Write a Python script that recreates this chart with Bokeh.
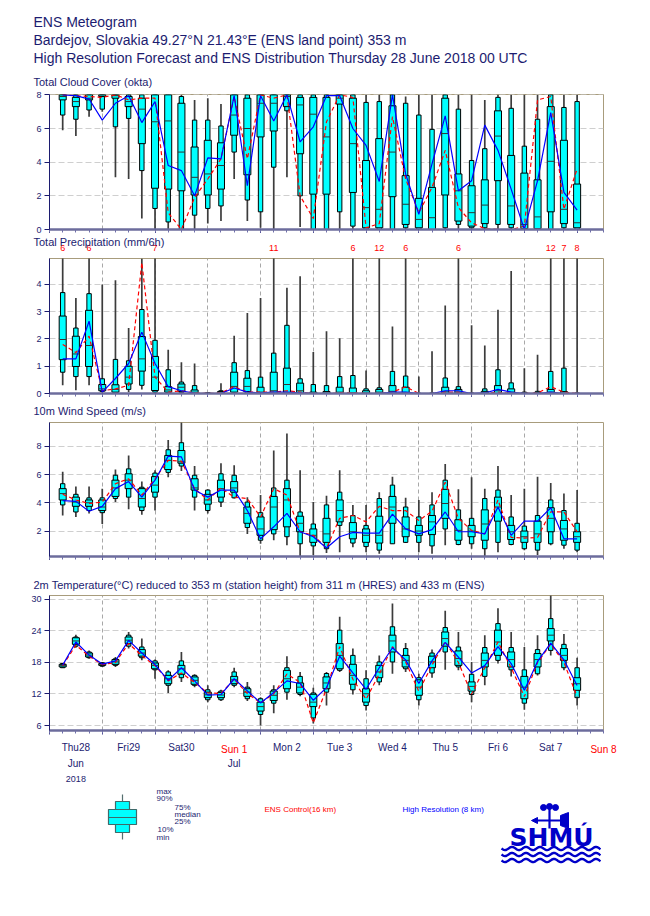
import numpy as np
from bokeh.plotting import figure
from bokeh.models import Range1d, FixedTicker, LinearAxis, Title
from bokeh.layouts import column
from bokeh.embed import file_html
from bokeh.resources import INLINE
from bokeh.core.properties import value

# ---------------- data ----------------
steps = list(range(6, 241, 6))  # forecast hours from Thu 28 June 00 UTC

cloud_min = [5.9,5.55,6.7,7.0,3.1,3.0,0.65,0,0,0, 0,0.35,0.5,3.0,0.5,0.1,0,3.1,0.15,0, 0,0,0,0,0,0,0,0,0,0, 0,0,0,0,0,0,0,0,0,0]
cloud_p10 = [6.8,6.55,7.1,7.15,6.1,6.6,3.5,1.25,0.45,0, 0.85,1.25,1.4,4.6,1.75,1.05,3.7,7.05,2.0,0, 0,1.05,0.2,0,0,0,0.1,0,0,0.1, 0.3,0.1,0.1,0.3,0.1,0,0,0,0.1,0]
cloud_p25 = [7.7,7.3,7.7,7.9,7.8,7.3,5.1,2.45,2.4,2.3, 2.05,2.05,2.4,5.6,3.25,5.5,5.85,7.3,4.5,2.1, 2.1,7.45,2.2,0.1,0.1,1.95,0.3,0.1,0,2.05, 0.5,0.2,0.35,2.9,0.3,0.05,0.05,1.05,0.35,0.1]
cloud_med = [7.9,7.6,7.8,8.0,7.95,7.6,7.15,6.4,6.45,4.6, 3.1,3.3,3.8,6.8,6.0,7.5,7.5,7.9,7.4,6.85, 5.5,7.8,5.1,1.3,1.2,4.6,1.5,0.6,0.7,5.7, 2.3,1.0,1.45,5.55,1.4,0.3,0.75,4.05,1.2,0.4]
cloud_p75 = [8,7.85,8,8,8,7.9,7.8,8,8,7.5, 4.9,5.3,5.15,8,7.8,8,8,8,7.85,7.85, 7.85,8,7.8,4.1,5.4,7.35,3.2,1.85,2.5,7.8, 3.3,2.6,2.95,7.05,4.4,3.35,2.95,7.3,5.3,2.7]
cloud_p90 = [8,8,8,8,8,8,8,8,8,7.9, 6.5,6.5,6.15,8,8,8,8,8,8,8, 8,8,8,7.55,7.6,8,7.5,6.8,5.95,8, 7.15,4.1,4.8,7.85,7.2,4.95,6.55,8,7.25,7.6]
cloud_max = [8,8,8,8,8,8,8,8,8,8, 7.7,7.8,7.45,8,8,8,8,8,8,8, 8,8,8,8,8,8,7.9,8,8,8, 8,8,7.7,8,8,8,8,8,8,8]
cloud_ctrl = [8,7.95,7.9,7.85,8,7.7,7.8,7.8,1.0,0, 1.9,3.0,4.2,7.9,4.2,8,7.8,8,2.0,0.65, 6.4,8,7.85,0.1,0.35,6.7,3.0,1.0,2.5,4.7, 1.3,0.4,0.05,0,0,0.2,7.7,7.9,1.2,3.6]
cloud_hres = [8,7.95,7.75,6.5,7.5,7.95,6.35,7.6,3.8,3.5, 2.0,4.25,4.2,7.95,2.6,7.95,6.45,8,5.2,6.1, 7.95,7.95,6.0,5.0,2.85,8,3.3,0.9,3.9,6.75, 2.3,2.9,6.2,4.7,2.4,0,2.9,6.95,2.2,1.15]

precip_min = [0.3,0.12,0.3,0.03,0,0.05,0.15,0,0,0, 0,0,0,0,0,0,0,0,0,0, 0,0,0,0,0,0,0,0,0,0, 0,0,0,0,0,0,0,0,0,0]
precip_p10 = [0.78,0.62,0.62,0.08,0.02,0.15,0.3,0.05,0.02,0.03, 0,0,0,0.05,0.01,0,0,0,0,0, 0,0,0,0,0,0,0,0,0,0, 0,0,0,0,0,0,0,0,0,0]
precip_p25 = [1.24,0.99,0.99,0.1,0.05,0.35,0.82,0.11,0.05,0.08, 0.01,0,0,0.05,0.07,0,0,0.02,0,0, 0,0,0,0,0,0,0,0,0,0, 0,0,0,0,0,0,0,0,0,0]
precip_med = [1.98,1.45,1.76,0.17,0.15,0.6,1.27,0.6,0.13,0.23, 0.05,0,0.02,0.26,0.26,0.05,0.1,0.33,0.1,0, 0.02,0.05,0.03,0.02,0.05,0.08,0.04,0,0,0.06, 0.05,0,0.02,0.1,0.05,0,0,0.05,0.02,0]
precip_p75 = [2.84,2.1,3.05,0.33,0.32,1.0,2.09,1.36,0.25,0.35, 0.13,0.01,0.07,0.78,0.56,0.23,0.78,0.93,0.38,0.05, 0.07,0.23,0.2,0.1,0.15,0.29,0.23,0,0,0.23, 0.15,0,0.08,0.29,0.17,0.02,0.03,0.15,0.07,0]
precip_p90 = [3.7,2.4,3.66,0.54,1.25,1.2,3.08,1.95,0.87,0.42, 0.29,0.03,0.1,1.13,0.84,0.6,1.48,2.5,0.54,0.33, 0.29,0.62,0.66,0.17,0.21,0.81,0.64,0.01,0.02,0.57, 0.25,0.02,0.17,0.87,0.39,0.05,0.08,0.81,0.93,0.02]
precip_max = [6,3.5,6,4.0,4.15,2.4,4.95,7,1.6,1.15, 1.1,0.05,0.38,2.12,2.95,3.5,11,3.88,4.3,1.52, 2.28,2.03,6,0.84,12,2.46,6,0.62,1.55,3.23, 6,2.5,1.76,3.07,4.49,0.93,1.42,12,7,8]
precip_ctrl = [1.8,1.5,2.1,0.1,0.17,0.3,4.8,0.6,0.05,0.1, 0.02,0,0.02,0.25,0.05,0.05,0.05,0.1,0.05,0, 0,0.02,0.02,0,0,0.05,0.25,0,0,0.05, 0.05,0,0,0.05,0,0,0.02,0.25,0.05,0]
precip_hres = [1.27,1.27,2.65,0.05,0.55,1.1,2.25,1.1,0.25,0.1, 0.01,0,0,0.2,0.05,0.02,0.05,0.05,0.02,0, 0,0,0,0,0,0.05,0.05,0,0,0.1, 0.1,0,0.02,0.15,0.05,0,0,0.05,0,0]

wind_min = [3.1,3.0,3.25,2.5,4.05,3.55,3.15,3.45,5.8,6.25, 3.45,3.25,3.7,4.3,1.8,1.1,1.35,1.0,0.15,0.3, 0.45,0.5,0.85,0.5,0.4,1.1,1.15,0.5,0.4,1.0, 1.0,0.75,0.15,0.5,1.0,0.65,0.3,1.0,0.75,0.5]
wind_p10 = [3.85,3.35,3.45,3.3,4.3,4.4,3.45,4.4,6.15,6.6, 4.4,3.45,4.05,4.35,2.25,1.35,1.8,1.6,1.1,0.95, 0.75,2.4,1.15,0.9,0.65,1.1,1.2,1.2,0.95,2.15, 1.05,1.1,0.75,1.2,1.05,0.75,0.65,1.1,1.0,0.65]
wind_p25 = [4.2,3.75,3.75,3.45,4.45,5.0,3.7,4.75,6.35,6.8, 4.9,3.9,4.4,4.75,2.55,1.7,2.1,2.3,1.95,1.2, 1.2,2.65,1.45,1.2,1.15,2.55,1.6,1.7,1.75,2.9, 1.35,1.6,1.35,2.7,1.4,1.2,1.2,1.95,1.35,1.2]
wind_med = [4.65,4.05,4.0,3.7,5.05,5.6,4.3,5.25,7.0,6.9, 5.05,4.2,5.0,5.05,3.25,2.15,3.7,4.2,2.55,1.7, 1.8,3.45,1.95,1.7,1.7,3.7,2.15,2.0,2.65,3.95, 2.05,2.0,2.5,3.7,1.95,1.6,1.8,2.9,2.15,1.6]
wind_p75 = [5.0,4.4,4.2,4.2,5.6,6.05,5.0,5.85,7.35,7.7, 5.7,4.6,5.6,5.5,3.7,3.0,4.45,5.0,3.05,2.15, 2.9,4.2,2.6,2.15,3.05,4.45,3.0,2.4,3.1,4.95, 2.8,2.4,3.5,4.4,2.4,2.0,2.7,3.65,2.75,1.95]
wind_p90 = [5.35,4.6,4.35,4.35,5.95,6.4,5.1,6.1,7.75,8.25, 5.95,4.9,6.05,5.95,4.05,3.3,5.05,5.6,3.35,2.5, 3.85,4.75,3.1,2.4,4.3,5.25,3.7,3.0,3.85,5.6, 3.5,2.9,4.3,4.9,3.0,2.35,3.1,4.2,3.45,2.55]
wind_max = [6.2,5.15,5.15,5.0,6.35,7.35,5.5,6.3,8.45,9.7, 6.6,4.95,6.8,6.65,4.4,4.55,7.7,8.9,6.3,4.05, 4.5,6.3,3.85,3.85,4.75,5.85,4.35,4.2,4.75,6.75, 4.95,5.8,5.0,6.6,4.55,5.0,5.85,5.4,4.65,4.9]
wind_ctrl = [4.6,4.2,3.95,4.05,5.35,5.7,4.55,5.7,7.0,6.95, 5.0,4.2,5.05,4.4,4.3,3.0,5.0,4.55,1.95,1.7, 0.8,2.9,3.1,2.65,3.75,3.45,3.45,2.75,3.4,5.45, 2.9,2.05,1.8,4.2,1.55,1.5,1.55,3.35,3.35,1.95]
wind_hres = [4.15,4.1,3.4,3.75,5.0,5.5,4.4,5.6,7.3,7.25, 4.9,4.4,4.9,4.9,3.45,1.45,2.3,3.25,1.95,1.6, 0.8,1.6,1.9,1.85,1.85,3.2,2.15,1.8,2.1,3.35, 1.95,1.95,1.8,3.7,1.7,2.7,2.7,3.65,1.45,1.45]

temp_min = [16.95,20.8,18.7,17.15,17.15,20.65,18.4,14.9,12.2,14.3, 13.3,10.45,10.65,13.3,10.65,6.0,8.35,10.9,11.55,6.4, 9.8,16.2,11.9,8.85,13.65,15.85,16.2,9.8,15.1,16.6, 16.5,10.45,13.65,17.8,15.35,9.0,15.5,19.35,16.5,9.8]
temp_p10 = [17.0,21.1,18.9,17.3,17.45,21.1,18.9,16.6,13.65,15.1, 13.65,10.9,10.9,13.65,11.1,8.1,10.25,12.35,11.9,7.45, 12.35,16.5,12.8,9.8,14.3,18.1,16.8,10.9,16.0,20.0, 17.15,11.9,15.35,18.4,16.6,10.25,15.85,20.3,17.0,11.3]
temp_p25 = [17.15,21.45,19.05,17.45,17.65,21.6,19.2,16.8,13.95,15.75, 13.85,11.3,11.3,13.95,11.55,8.75,10.75,13.0,12.2,9.6, 13.0,16.8,13.85,10.45,15.1,20.0,17.15,11.75,17.0,21.1, 17.45,12.55,17.15,19.35,17.15,11.1,17.15,22.1,18.4,12.7]
temp_med = [17.4,22.1,19.4,17.65,18.1,22.25,19.8,17.45,14.9,16.8, 14.6,11.85,11.8,14.7,12.35,9.6,11.75,14.9,13.3,10.45, 14.1,19.35,15.55,12.05,16.2,22.1,18.4,13.3,18.1,22.55, 18.75,13.45,18.4,21.9,18.55,13.3,18.55,23.2,19.35,13.95]
temp_p75 = [17.65,22.7,19.8,17.8,18.55,22.85,20.45,17.9,15.55,17.45, 15.25,12.35,12.3,15.35,13.0,10.45,12.55,16.5,14.1,11.95, 15.25,21.6,17.65,13.0,17.45,23.2,19.35,14.7,19.2,23.8, 20.2,14.3,19.8,24.15,20.0,15.35,19.7,24.45,20.65,15.1]
temp_p90 = [17.8,22.85,20.0,17.95,18.7,23.2,20.95,18.3,16.2,18.3, 15.55,12.8,12.55,16.2,13.3,11.1,12.8,17.0,15.35,12.2, 15.9,24.15,19.35,14.9,18.1,24.8,20.65,15.1,19.8,24.65, 20.95,15.75,20.85,25.4,20.85,16.6,20.45,26.35,21.45,17.0]
temp_max = [17.9,23.3,20.3,18.1,19.05,23.8,22.55,18.55,16.5,20.0, 15.75,13.65,12.8,17.0,14.3,11.4,13.65,19.2,16.2,13.2, 16.2,26.7,20.65,16.5,19.35,29.25,21.7,15.85,20.45,27.85, 23.8,18.1,23.2,28.3,23.8,20.95,23.2,30.8,23.4,18.9]
temp_ctrl = [17.4,21.3,19.2,17.6,18.0,21.6,19.3,17.4,14.5,16.0, 14.2,12.2,12.1,14.8,12.1,10.3,12.0,15.8,14.2,6.5, 13.0,21.0,14.8,11.0,15.8,21.0,18.1,12.5,17.5,22.0, 18.0,12.0,17.0,21.9,17.0,11.5,18.0,21.5,18.0,11.5]
temp_hres = [17.5,21.9,19.4,17.7,18.3,22.2,19.8,17.6,14.6,17.0, 14.5,11.8,11.9,14.9,12.6,10.3,12.3,14.5,14.0,10.8, 13.2,19.2,16.0,12.9,17.0,20.8,18.5,14.0,18.3,21.8, 19.0,16.0,17.4,21.0,17.8,12.7,18.2,21.7,18.5,13.6]

weekday_labels = ["Thu28", "Fri29", "Sat30", "Mon 2", "Tue 3", "Wed 4", "Thu 5", "Fri 6", "Sat 7"]
weekday_hours = [12, 36, 60, 108, 132, 156, 180, 204, 228]
sunday_labels = ["Sun 1", "Sun 8"]
sunday_hours = [84, 252]
month_labels = ["Jun", "Jul"]
month_hours = [12, 84]
year_labels = ["2018"]
year_hours = [12]
day_ticks = list(range(0, 241, 24))
six_hour_ticks = list(range(0, 253, 6))

header_lines = ["ENS Meteogram",
                "Bardejov, Slovakia 49.27°N 21.43°E (ENS land point) 353 m",
                "High Resolution Forecast and ENS Distribution Thursday 28 June 2018 00 UTC"]

legend_labels = ["max", "90%", "75%", "median", "25%", "10%", "min"]

# ---------------- style ----------------
FONT = "Liberation Sans"
NAVY = "#1c1c70"
CYAN = "#00ffff"
FRAME_W = 554
BL, BR = 49, 47
X_END = 252.0

xr = Range1d(0, X_END)


def make_title(text, size, standoff):
    return Title(text=text, align="left", offset=-16, standoff=standoff, text_font=FONT,
                 text_font_size=size, text_font_style="normal", text_color=NAVY)


def label_axis(ticks, labels, color, size, standoff):
    ax = LinearAxis(ticker=FixedTicker(ticks=ticks),
                    major_label_overrides={t: l for t, l in zip(ticks, labels)})
    ax.axis_line_color = None
    ax.major_tick_line_color = None
    ax.minor_tick_line_color = None
    ax.major_tick_out = 0
    ax.major_tick_in = 0
    ax.minor_tick_out = 0
    ax.minor_tick_in = 0
    ax.major_label_standoff = standoff
    ax.major_label_text_font = FONT
    ax.major_label_text_font_size = size
    ax.major_label_text_color = color
    return ax


def panel(title, title_standoff, yr, yticks, frame_h, top, bottom, extra_above=None):
    p = figure(frame_width=FRAME_W, frame_height=frame_h, x_range=xr, y_range=Range1d(*yr),
               output_backend="svg", toolbar_location=None, title=None,
               min_border_left=BL, min_border_right=BR, min_border_top=top, min_border_bottom=bottom)
    p.outline_line_color = "#a89c7c"
    p.outline_line_width = 1
    p.background_fill_color = "white"
    p.border_fill_color = "white"
    # y axis
    yax = p.yaxis[0]
    yax.ticker = FixedTicker(ticks=yticks)
    yax.major_label_text_font = FONT
    yax.major_label_text_font_size = "9px"
    yax.major_label_text_color = NAVY
    yax.axis_line_color = NAVY
    yax.major_tick_line_color = NAVY
    yax.major_tick_out = 5
    yax.major_tick_in = 0
    yax.minor_tick_line_color = None
    yax.major_label_standoff = 3
    p.ygrid.ticker = FixedTicker(ticks=yticks)
    p.ygrid.grid_line_color = "#cfcfcf"
    p.ygrid.grid_line_dash = "6 3"
    # x axis: ticks only
    xax = p.xaxis[0]
    xax.ticker = FixedTicker(ticks=day_ticks, minor_ticks=six_hour_ticks)
    xax.major_label_text_font_size = "1px"
    xax.major_label_text_color = None
    xax.major_label_standoff = 0
    xax.axis_line_color = "#6c6c9c"
    xax.axis_line_width = 2.5
    xax.major_tick_line_color = "#3c3c88"
    xax.minor_tick_line_color = "#7070a8"
    xax.major_tick_out = 4
    xax.major_tick_in = 0
    xax.minor_tick_out = 3
    xax.minor_tick_in = 0
    p.xgrid.ticker = FixedTicker(ticks=day_ticks)
    p.xgrid.grid_line_color = "#a8a8a8"
    p.xgrid.grid_line_dash = "4 3"
    if extra_above is not None:
        p.add_layout(extra_above, "above")
    p.add_layout(make_title(title, "11px", title_standoff), "above")
    return p


def draw_boxes(p, vmin, v10, v25, vmed, v75, v90, vmax, ctrl, hres):
    x = np.array(steps, dtype=float)
    wide, narrow = 3.2, 2.0
    p.segment(x0=x, y0=vmin, x1=x, y1=vmax, line_color="#3c3c3c", line_width=1.7)
    p.vbar(x=x, width=narrow, bottom=v10, top=v90, fill_color=CYAN, line_color="black", line_width=1)
    p.vbar(x=x, width=wide, bottom=v25, top=v75, fill_color=CYAN, line_color="black", line_width=1)
    p.segment(x0=x - wide / 2, y0=vmed, x1=x + wide / 2, y1=vmed, line_color="#333333", line_width=1)
    p.line(x, ctrl, line_color="#ff0000", line_width=1.2, line_dash="4 3")
    p.line(x, hres, line_color="#0000ff", line_width=1.2)


# ---------------- cloud panel (with page header) ----------------
pc = panel("Total Cloud Cover (okta)", 13, (0, 8.02), [0, 2, 4, 6, 8], 135, 94, 3)
pc.add_layout(make_title(header_lines[2], "14px", 3), "above")
pc.add_layout(make_title(header_lines[1], "14px", -2), "above")
pc.add_layout(make_title(header_lines[0], "14px", 2), "above")
draw_boxes(pc, cloud_min, cloud_p10, cloud_p25, cloud_med, cloud_p75, cloud_p90, cloud_max, cloud_ctrl, cloud_hres)

# ---------------- precipitation panel ----------------
PTOP = 4.95
over_hours = [s for s, m in zip(steps, precip_max) if m > PTOP]
over_text = [str(int(round(m))) for m in precip_max if m > PTOP]
red_axis = label_axis(over_hours, over_text, "#ff0000", "9px", 8)
pp = panel("Total Precipitation (mm/6h)", -13.5, (0, PTOP), [0, 1, 2, 3, 4], 135, 25, 3, extra_above=red_axis)
draw_boxes(pp, precip_min, precip_p10, precip_p25, precip_med, precip_p75, precip_p90, precip_max, precip_ctrl, precip_hres)

# ---------------- wind panel ----------------
pw = panel("10m Wind Speed (m/s)", 11, (0.2, 9.68), [2, 4, 6, 8], 134, 25, 3)
draw_boxes(pw, wind_min, wind_p10, wind_p25, wind_med, wind_p75, wind_p90, wind_max, wind_ctrl, wind_hres)

# ---------------- temperature panel + time axis labels ----------------
pt = panel("2m Temperature(°C) reduced to 353 m (station height) from 311 m (HRES) and 433 m (ENS)", 9,
           (5.05, 30.75), [6, 12, 18, 24, 30], 135, 35, 56)
pt.add_layout(label_axis(weekday_hours, weekday_labels, NAVY, "10px", 7), "below")
pt.add_layout(label_axis(sunday_hours, sunday_labels, "#ff0000", "10px", -12), "below")
pt.add_layout(label_axis(month_hours, month_labels, NAVY, "10px", 0), "below")
pt.add_layout(label_axis(year_hours, year_labels, NAVY, "9px", 4), "below")
draw_boxes(pt, temp_min, temp_p10, temp_p25, temp_med, temp_p75, temp_p90, temp_max, temp_ctrl, temp_hres)

# ---------------- legend & logo (page-pixel coordinates) ----------------
leg = figure(width=650, height=120, x_range=Range1d(BL, BL + FRAME_W), y_range=Range1d(910, 790),
             output_backend="svg", toolbar_location=None, title=None,
             min_border_left=BL, min_border_right=BR, min_border_top=0, min_border_bottom=0,
             x_axis_type=None, y_axis_type=None)
leg.outline_line_color = None
leg.grid.visible = False
leg.background_fill_color = "white"
leg.border_fill_color = "white"

kx = 122
leg.segment(x0=[kx], y0=[798], x1=[kx], y1=[843], line_color="#556f6f", line_width=1.2)
leg.quad(left=[kx - 7], right=[kx + 7], top=[805], bottom=[836], fill_color=CYAN, line_color="#3f6a6a", line_width=1.2)
leg.quad(left=[kx - 14], right=[kx + 14], top=[813], bottom=[828], fill_color=CYAN, line_color="#3f6a6a", line_width=1.2)
leg.segment(x0=[kx - 14], y0=[821], x1=[kx + 14], y1=[821], line_color="#3f6a6a", line_width=1.2)
leg.text(x=[156, 156, 174, 174, 174, 157, 156], y=[795, 802, 811, 818, 825, 833, 841],
         text=legend_labels, text_color=NAVY,
         text_font=value(FONT), text_font_size="8px", text_align="left", text_baseline="middle")
leg.text(x=[264], y=[813], text=["ENS Control(16 km)"], text_color="#ff0000",
         text_font=value(FONT), text_font_size="8px", text_align="left", text_baseline="middle")
leg.text(x=[402], y=[813], text=["High Resolution (8 km)"], text_color="#0000ff",
         text_font=value(FONT), text_font_size="8px", text_align="left", text_baseline="middle")

LOGO = "#0000c8"
leg.text(x=[551], y=[841], text=["SHMÚ"], text_color=LOGO, text_font=value("DejaVu Sans"),
         text_font_size="25px", text_font_style="bold", text_align="center", text_baseline="middle")
wx = np.linspace(501, 600, 120)
wave = 1.6 * np.sin(2 * np.pi * (wx - 501) / 14.0)
leg.multi_line(xs=[wx, wx, wx], ys=[852 + wave, 858 + wave, 864 + wave], line_color=LOGO, line_width=2.4)
leg.segment(x0=[549, 534], y0=[809, 824], x1=[549, 562], y1=[832, 824], line_color=LOGO, line_width=2.2)
leg.patch(x=[531, 537, 537], y=[824, 821, 827], fill_color=LOGO, line_color=LOGO)
leg.patch(x=[560, 568, 568, 560], y=[819, 816, 832, 829], fill_color=LOGO, line_color=LOGO)
leg.scatter(x=[543, 549, 555], y=[811, 810, 811], size=6, fill_color=LOGO, line_color=LOGO)

layout = column(pc, pp, pw, pt, leg, spacing=0)
open("out.html", "w").write(file_html(layout, INLINE))
